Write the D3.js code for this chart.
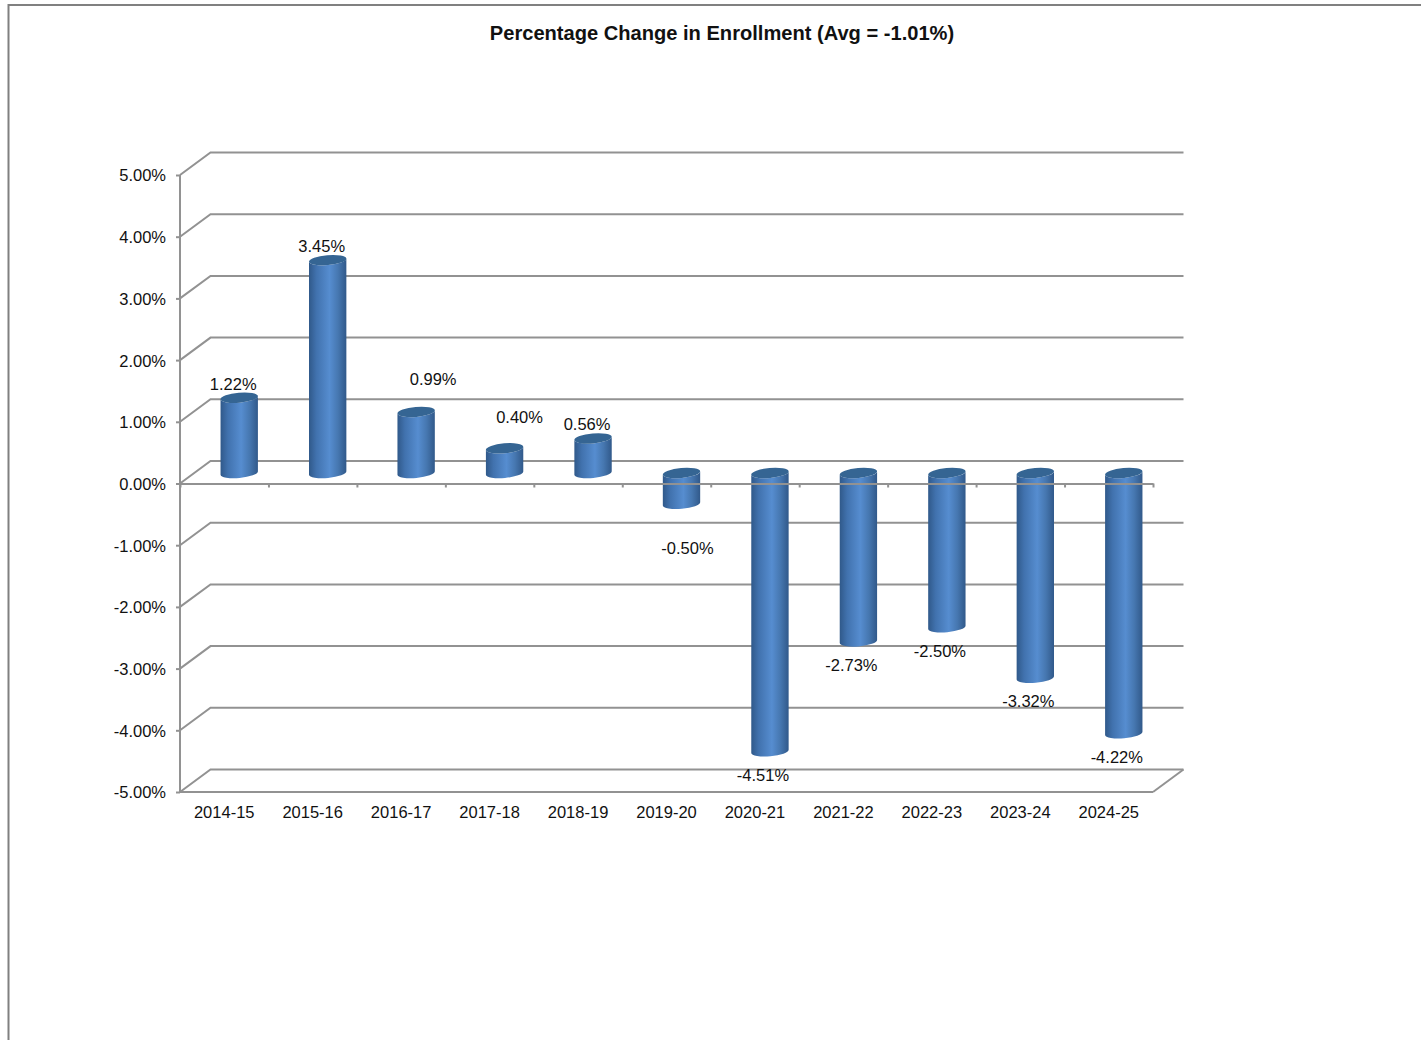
<!DOCTYPE html>
<html>
<head>
<meta charset="utf-8">
<script src="https://cdn.jsdelivr.net/npm/d3@7/dist/d3.min.js"></script>
<style>
  html, body { margin: 0; padding: 0; background: #fff; }
  svg { display: block; }
  text { font-family: "Liberation Sans", Arial, sans-serif; fill: #111; }
</style>
</head>
<body>
<svg id="chart" width="1421" height="1040"></svg>
<script>
// Enrollment change by school year
const years = ["2014-15", "2015-16", "2016-17", "2017-18", "2018-19", "2019-20",
               "2020-21", "2021-22", "2022-23", "2023-24", "2024-25"];
const changes = [1.22, 3.45, 0.99, 0.40, 0.56, -0.50, -4.51, -2.73, -2.50, -3.32, -4.22];
const gridValues = [5, 4, 3, 2, 1, 0, -1, -2, -3, -4, -5];
const chartTitle = "Percentage Change in Enrollment (Avg = -1.01%)";

const svg = d3.select("#chart");
const GREY = "#929292";
const pct = v => v.toFixed(2) + "%";

// Front plane of the 3-D box
const plot = { left: 180, right: 1153, top: 175, bottom: 792 };
const depth = { x: 30.5, y: -22.5 };

const y = d3.scaleLinear().domain([-5, 5]).range([plot.bottom, plot.top]);
const x = d3.scaleBand().domain(years).range([plot.left, plot.right]);
const slot = d3.scaleLinear().domain([0, years.length]).range([plot.left, plot.right]);

// Window frame
svg.append("path")
  .attr("d", "M8.5,1040V5H1421")
  .attr("fill", "none").attr("stroke", "#808080").attr("stroke-width", 2);

svg.append("text")
  .attr("x", 722).attr("y", 40)
  .attr("text-anchor", "middle")
  .attr("font-size", 20.1).attr("font-weight", "bold")
  .attr("fill", "#000")
  .text(chartTitle);

// Back wall gridlines and the floor/side diagonals
const grid = svg.append("g").attr("fill", "none").attr("stroke", GREY).attr("stroke-width", 2);
grid.selectAll("path.wall").data(gridValues).join("path")
  .attr("class", "wall")
  .attr("d", v => `M${plot.left},${y(v)}L${plot.left + depth.x},${y(v) + depth.y}H${plot.right + depth.x}`);
grid.append("path")
  .attr("d", `M${plot.right},${y(-5)}L${plot.right + depth.x},${y(-5) + depth.y}`);

// Cylinders
const defs = svg.append("defs");
const shade = defs.append("linearGradient").attr("id", "barShade")
  .attr("x1", 0).attr("x2", 1).attr("y1", 0).attr("y2", 0);
[[0, "#30598a"], [0.2, "#4172ae"], [0.55, "#568dd0"], [0.78, "#4677b0"], [1, "#31598a"]]
  .forEach(([o, c]) => shade.append("stop").attr("offset", o).attr("stop-color", c));

const barWidth = 37.5;
const rx = barWidth / 2;
const ry = 5;
const tilt = -5;
const dxTilt = rx * Math.cos(tilt * Math.PI / 180);
const dyTilt = rx * Math.sin(tilt * Math.PI / 180);
const arc = (sweep, ex, ey) => `A${rx},${ry} ${tilt} 0 ${sweep} ${ex},${ey}`;

const centerX = d => x(d) + x.bandwidth() / 2 + 15;
const planeY = v => y(v) - 10.5;

const bars = svg.append("g").selectAll("g").data(years.map((d, i) => ({ year: d, value: changes[i] }))).join("g");
bars.append("path")
  .attr("fill", "url(#barShade)")
  .attr("d", d => {
    const cx = centerX(d.year);
    const top = planeY(Math.max(d.value, 0));
    const bottom = planeY(Math.min(d.value, 0));
    return `M${cx - dxTilt},${top - dyTilt}L${cx - dxTilt},${bottom - dyTilt}` +
           arc(0, cx + dxTilt, bottom + dyTilt) +
           `L${cx + dxTilt},${top + dyTilt}` +
           arc(1, cx - dxTilt, top - dyTilt) + "Z";
  });
bars.append("ellipse")
  .attr("fill", "#356593")
  .attr("rx", rx).attr("ry", ry)
  .attr("transform", d => `translate(${centerX(d.year)},${planeY(Math.max(d.value, 0))}) rotate(${tilt})`);

// Axes
const yAxis = d3.axisLeft(y).tickValues(gridValues).tickSize(4).tickPadding(10).tickFormat(pct);
const yG = svg.append("g").attr("transform", `translate(${plot.left},0)`).call(yAxis);
const baseline = d3.axisBottom(slot).ticks(years.length).tickSize(4).tickSizeOuter(0).tickFormat("");
const zeroG = svg.append("g").attr("transform", `translate(0,${y(0)})`).call(baseline);
const xAxis = d3.axisBottom(x).tickSize(0).tickPadding(14);
const xG = svg.append("g").attr("transform", `translate(0,${plot.bottom})`).call(xAxis);

[yG, zeroG, xG].forEach(g => {
  g.selectAll("path.domain,line").attr("stroke", GREY).attr("stroke-width", 2);
  g.selectAll("text").attr("font-size", 16.5).attr("fill", "#111")
    .style("font-family", '"Liberation Sans", Arial, sans-serif');
});
yG.selectAll("text").attr("dy", "0.36em");
yG.selectAll("path.domain").attr("d", `M0,${plot.top}V${plot.bottom}`);
xG.selectAll("path.domain").attr("d", `M${plot.left},0H${plot.right}`);

// Data labels sit beyond the bar end; a few were dragged clear of their neighbours
const labelShift = {
  "2014-15": [0, 1], "2016-17": [23, -18], "2017-18": [21, -17], "2019-20": [13, 21]
};
svg.append("g").selectAll("text").data(bars.data()).join("text")
  .attr("text-anchor", "middle")
  .attr("font-size", 16.5)
  .attr("x", d => x(d.year) + x.bandwidth() / 2 + (d.value >= 0 ? 9 : 8) + (labelShift[d.year] || [0, 0])[0])
  .attr("y", d => y(d.value) + (d.value >= 0 ? -19 : 19) + (labelShift[d.year] || [0, 0])[1])
  .text(d => pct(d.value));
</script>
</body>
</html>
